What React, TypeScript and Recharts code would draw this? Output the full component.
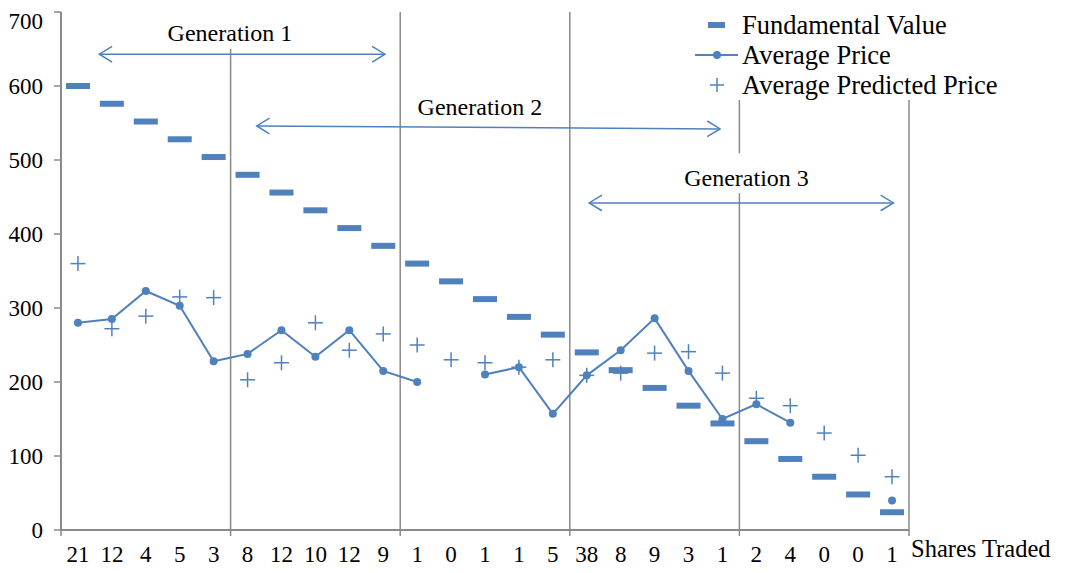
import React from 'react';
import {
  ComposedChart, Line, Scatter, XAxis, YAxis, ReferenceLine, ReferenceDot, Legend,
} from 'recharts';

// period number, shares traded in that period (printed as the x tick label)
const periods = [1, 2, 3, 4, 5, 6, 7, 8, 9, 10, 11, 12, 13, 14, 15, 16, 17, 18, 19, 20, 21, 22, 23, 24, 25];
const sharesTraded = [21, 12, 4, 5, 3, 8, 12, 10, 12, 9, 1, 0, 1, 1, 5, 38, 8, 9, 3, 1, 2, 4, 0, 0, 1];

const fundamentalValue = [600, 576, 552, 528, 504, 480, 456, 432, 408, 384, 360, 336, 312, 288, 264, 240, 216, 192, 168, 144, 120, 96, 72, 48, 24];
const averagePrice = [280, 285, 323, 303, 228, 238, 270, 234, 270, 215, 200, null, 210, 220, 157, 209, 243, 286, 215, 150, 170, 145, null, null, 40];
const averagePredicted = [360, 272, 289, 315, 314, 203, 226, 280, 243, 265, 250, 230, 226, 220, 230, 209, 212, 239, 241, 212, 178, 168, 131, 101, 72];

const yTicks = [0, 100, 200, 300, 400, 500, 600, 700];

// generation separators: x position between periods, segments of y extent
const separators = [
  { x: 0.5, segs: [[-8, 0]] },
  { x: 5.5, segs: [[-8, 650]] },
  { x: 10.5, segs: [[-8, 700]] },
  { x: 15.5, segs: [[-8, 700]] },
  { x: 20.5, segs: [[-8, 455], [509, 581]] },
  { x: 25.5, segs: [[-8, 581]] },
];

const generations = [
  { name: 'Generation 1', labelX: 5.48, labelY: 672, from: [1.63, 643], to: [10.05, 643] },
  { name: 'Generation 2', labelX: 12.85, labelY: 573, from: [6.27, 546], to: [19.93, 542] },
  { name: 'Generation 3', labelX: 20.71, labelY: 477, from: [16.07, 442], to: [25.04, 442] },
];

const data = periods.map((p, i) => ({
  period: p,
  fv: fundamentalValue[i],
  price: averagePrice[i],
  predicted: averagePredicted[i],
}));

const BLUE = '#4f81bd';
const GRAY = '#8a8a8a';
const FONT = 'Liberation Serif';

const Dash = (props: any) => {
  const { cx, cy } = props;
  return <rect x={cx - 12} y={cy - 3} width={24} height={6} fill={BLUE} />;
};

const Plus = (props: any) => {
  const { cx, cy } = props;
  return (
    <g stroke={BLUE} strokeWidth={1.5}>
      <line x1={cx - 7.5} y1={cy} x2={cx + 7.5} y2={cy} />
      <line x1={cx} y1={cy - 7.5} x2={cx} y2={cy + 7.5} />
    </g>
  );
};

const Arrow = (props: any) => {
  const { x1, y1, x2, y2 } = props;
  const a = Math.atan2(y2 - y1, x2 - x1);
  const head = (x: number, y: number, dir: number) => {
    const l = 15, w = 0.55;
    const ax = x - dir * l * Math.cos(a - w), ay = y - dir * l * Math.sin(a - w);
    const bx = x - dir * l * Math.cos(a + w), by = y - dir * l * Math.sin(a + w);
    return <polyline points={`${ax},${ay} ${x},${y} ${bx},${by}`} fill="none" />;
  };
  return (
    <g stroke={BLUE} strokeWidth={1.5}>
      <line x1={x1} y1={y1} x2={x2} y2={y2} />
      {head(x1, y1, -1)}
      {head(x2, y2, 1)}
    </g>
  );
};

const renderLegend = () => (
  <svg width={380} height={100} style={{ display: 'block' }}>
    <g fontSize={26.5} fill="#000" fontFamily={FONT}>
      <rect x={28} y={14} width={17} height={6} fill={BLUE} />
      <text x={62} y={26}>Fundamental Value</text>
      <line x1={15} y1={47} x2={58} y2={47} stroke={BLUE} strokeWidth={2} />
      <circle cx={37} cy={47} r={4} fill={BLUE} />
      <text x={62} y={56}>Average Price</text>
      <line x1={30} y1={77} x2={44} y2={77} stroke={BLUE} strokeWidth={1.5} />
      <line x1={37} y1={70} x2={37} y2={84} stroke={BLUE} strokeWidth={1.5} />
      <text x={62} y={86}>Average Predicted Price</text>
    </g>
  </svg>
);

const sharesLabel = (props: any) => {
  const { viewBox } = props;
  return (
    <text x={viewBox.x + viewBox.width + 2} y={viewBox.y + 27} fontSize={24.5} fill="#000" fontFamily={FONT}>
      Shares Traded
    </text>
  );
};

const tickStyle = { fill: '#000', fontSize: 23, fontFamily: FONT };

export default function App() {
  return (
    <div style={{ width: 1050, height: 557, position: 'relative', fontFamily: FONT }}>
      <ComposedChart
        width={1050}
        height={557}
        data={data}
        margin={{ top: 4, right: 149, bottom: 5, left: 0 }}
      >
        <XAxis
          dataKey="period"
          type="number"
          domain={[0.5, 25.5]}
          ticks={periods}
          interval={0}
          tickFormatter={(v: number) => String(sharesTraded[v - 1])}
          tickLine={false}
          tickSize={6}
          tickMargin={10}
          height={30}
          axisLine={{ stroke: GRAY, strokeWidth: 2 }}
          tick={tickStyle}
          label={sharesLabel}
        />
        <YAxis
          type="number"
          domain={[0, 700]}
          ticks={yTicks}
          width={53}
          tickSize={7}
          tickMargin={11}
          axisLine={{ stroke: GRAY, strokeWidth: 2 }}
          tickLine={{ stroke: GRAY, strokeWidth: 1.5 }}
          tick={tickStyle}
        />
        {separators.flatMap((s) =>
          s.segs.map((seg, j) => (
            <ReferenceLine
              key={`${s.x}-${j}`}
              segment={[{ x: s.x, y: seg[0] }, { x: s.x, y: seg[1] }]}
              stroke={GRAY}
              strokeWidth={1.5}
              ifOverflow="visible"
            />
          ))
        )}
        {generations.map((g) => (
          <ReferenceLine
            key={g.name}
            segment={[{ x: g.from[0], y: g.from[1] }, { x: g.to[0], y: g.to[1] }]}
            ifOverflow="visible"
            shape={(p: any) => <Arrow {...p} />}
          />
        ))}
        {generations.map((g) => (
          <ReferenceDot
            key={`lbl-${g.name}`}
            x={g.labelX}
            y={g.labelY}
            r={0}
            fill="none"
            stroke="none"
            ifOverflow="visible"
            label={{ value: g.name, position: 'center', fontSize: 24, fill: '#000', fontFamily: FONT }}
          />
        ))}
        <Scatter
          name="Fundamental Value"
          dataKey="fv"
          shape={Dash}
          isAnimationActive={false}
        />
        <Line
          name="Average Price"
          dataKey="price"
          stroke={BLUE}
          strokeWidth={2}
          dot={{ r: 4, fill: BLUE, stroke: BLUE, strokeWidth: 0 }}
          connectNulls={false}
          isAnimationActive={false}
        />
        <Scatter
          name="Average Predicted Price"
          dataKey="predicted"
          shape={Plus}
          isAnimationActive={false}
        />
        <Legend
          layout="vertical"
          align="center"
          verticalAlign="middle"
          content={renderLegend}
          wrapperStyle={{ position: 'absolute', left: 672, top: 0, width: 378, height: 100 }}
        />
      </ComposedChart>
    </div>
  );
}
